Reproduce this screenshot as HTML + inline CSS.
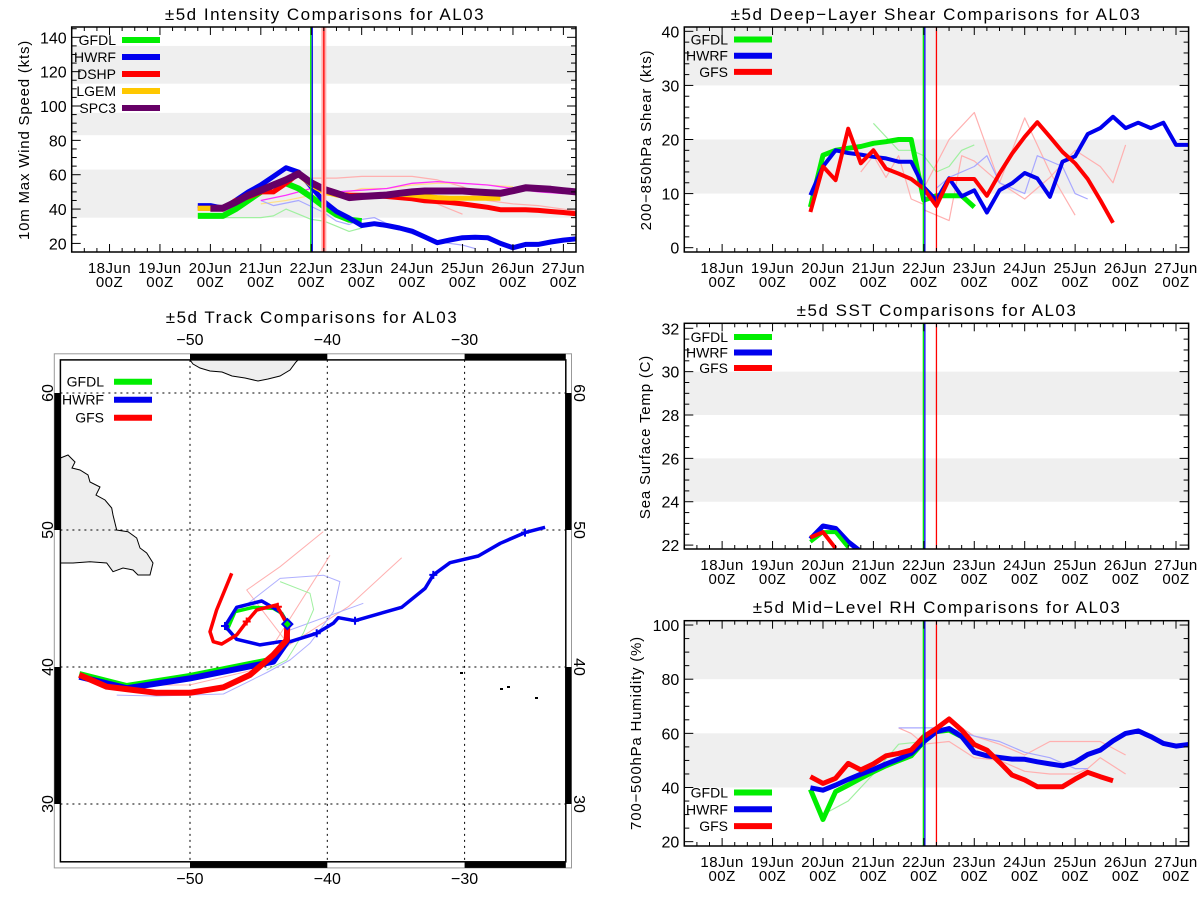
<!DOCTYPE html>
<html><head><meta charset="utf-8">
<style>
html,body{margin:0;padding:0;background:#fff;}
svg{display:block;font-family:"Liberation Sans",sans-serif;}
</style></head>
<body>
<svg id="chart" width="1200" height="900" viewBox="0 0 1200 900" xmlns="http://www.w3.org/2000/svg">
<rect x="0" y="0" width="1200" height="900" fill="#fff"/>
</svg>
<script>
// ---------- shared axis data ----------
const dayLabels = ['18Jun','19Jun','20Jun','21Jun','22Jun','23Jun','24Jun','25Jun','26Jun','27Jun'];
const hourLabel = '00Z';
const markerTimes = [3.99, 4.02, 4.25];

// ---------- intensity data (days since 18Jun 00Z, 6-hourly) ----------
const intGfdl = [36,36,36,40,45,50,54,55,52,47,41.5,36.7,33.8,33];
const intHwrf = [42,42,40.5,45,50,54,59,64,61.5,53,44.4,38.6,34.8,30.4,31.5,30.4,29,27.1,23.8,20.4,22,23.3,23.6,23.3,20,17.5,19.4,19.4,20.8,21.9,22.7];
const intDshp = [40.5,40.5,40,45,47,50,50,55,60.6,55,51,48.6,48,48,47.7,47.3,46.7,46,44.8,44.4,43.8,43,42,41,39.6,39.6,39.6,39.2,38.6,38,37.3];
const intLgem = [40.5,40.5,40,44,48,51,54,57,60,54,50,48.2,47.3,47.3,47.7,48.2,48.6,48.2,47.3,46.7,46.3,46.3,46.3,46.3,46.3];
const intSpc3 = [40.5,40.5,44,48,51,54,57,60.6,55.3,51.5,49.2,46.7,47.3,47.7,48.2,49.2,50,50.5,50.5,50.5,50.5,50,49.6,49.2,50.7,52.4,52,51.5,50.7,50];
const intPink1T = [4.0,4.5,5.0,6.0,6.5,7.0,7.5];
const intPink1 = [58,58,59,59,57,53,47];
const intMagT = [3.0,3.5,4.0,4.5,5.0,5.5,6.0,6.5,7.0,7.5,8.0,8.5,9.0];
const intMag = [45,48,52,50,51,52,55,56,55,54,52,50,49];
const intPaleGT = [2.25,2.5,3.0,3.25,3.5,3.75,4.0,4.25,4.5,4.75,5.0];
const intPaleG = [35,35,35,36,40,37,34,33,30,27,29];
const intPaleBT = [3.0,3.25,3.75,4.25,4.5,4.75,5.0,5.25,5.75,6.5,7.0,7.25];
const intPaleB = [45,42,45,38,33,31,34,35,28,21,19,17];
const intPaleYT = [3.0,3.5,4.0,4.5,5.0,5.5,6.0,6.5,7.0,8.0];
const intPaleY = [43,45,48,48,52,52,54,55,55,53];
const intPink2T = [7.0,7.5,8.0,8.5,9.25];
const intPink2 = [50,45,43,42,39];
const intPink3T = [5.5,6.0,6.5,7.0];
const intPink3 = [48,46,43,37];

// ---------- shear data ----------
const shrGfdl = [7.5,17.1,18,18.4,18.7,19.3,19.6,20,20,8.8,9.6,9.6,9.6,7.5];
const shrHwrf = [9.7,15,18,17.5,17.2,16.8,16.5,15.9,15.9,11.2,8.8,12.8,9.5,10.6,6.5,10.6,11.9,13.8,12.8,9.4,15.9,16.9,21,22.1,24.2,22.1,23.1,22.1,23.1,19,19];
const shrGfs = [6.6,15,12.5,22,15.6,18,14.6,13.7,12.7,10.9,7.7,12.7,12.7,12.7,9.6,13.7,17.4,20.5,23.2,20.5,17.7,15.6,12.7,8.8,4.6];
const shrPaleR1T = [4.0,4.5,5.0,5.5,6.0,6.5,7.0];
const shrPaleR1 = [11,20,25,12,24,14,6];
const shrPaleR2T = [4.0,4.5,4.75,5.0,5.5,6.0,6.5,7.0,7.5,7.75,8.0];
const shrPaleR2 = [7,5,17,16,12,9,13,18,15,12,19];
const shrPaleR3T = [2.75,3.0,3.25,3.5,3.75,4.0];
const shrPaleR3 = [14,17,13,17,9,8];
const shrPaleGT = [3.0,3.5,3.75,4.0,4.25,4.5,4.75,5.0];
const shrPaleG = [23,18,18,17,14,15,18,19];
const shrPaleBT = [4.25,4.5,5.0,5.25,5.5,6.0,6.25,6.75,7.0,7.25];
const shrPaleB = [11,13,15,17,12,10,17,15,10,9];

// ---------- SST data ----------
const sstHwrf = [22.28,22.88,22.77,22.15,21.7];
const sstGfdl = [22.15,22.6,22.6,21.9];
const sstGfs = [22.35,22.6,21.85];

// ---------- RH data ----------
const rhGfdl = [39.3,28.2,38.5,40.9,43.4,45.8,48,49.9,51.7,56.9,60.6,61.2,58.8,55.1];
const rhHwrf = [39.9,39,40.9,43,44.9,46.7,48.7,50.5,52.6,56.9,60.6,61.8,58.8,53,51.7,51.1,50.5,50.4,49.5,48.7,48,49.3,52.2,53.8,57.2,60,60.9,58.8,56.3,55.3,55.9];
const rhGfs = [44,41.5,43.4,48.9,46.5,48.7,51.7,52.6,53.8,58.8,61.8,65.3,61.2,55.9,53.8,49.3,44.6,42.8,40.3,40.3,40.3,43.1,45.6,44,42.5];
const rhPaleR1T = [3.5,3.75,4.0,4.5,5.0,5.5,6.0,6.5,7.0,7.25,7.5,8.0];
const rhPaleR1 = [62,60,56,57,51,50,46,45,45,47,51,45];
const rhPaleR2T = [4.5,5.0,5.5,6.0,6.5,7.0,7.5,8.0];
const rhPaleR2 = [65,59,56,52,57,57,57,52];
const rhPaleBT = [3.5,4.0,4.5,5.0,5.5,6.0,6.5,7.0,7.25];
const rhPaleB = [62,62,62,59,57,53,51,47,47];
const rhPaleGT = [2.0,2.5,3.0,3.5,4.0];
const rhPaleG = [30,35,45,56,57];

// ---------- track data (lon, lat) ----------
const trkGfsLon = [-58.06,-56.07,-52.43,-50.0,-47.57,-45.63,-43.93,-42.96,-42.91,-43.69,-45.14,-45.87,-46.6,-47.69,-48.3,-48.54,-48.06,-46.96];
const trkGfsLat = [39.42,38.56,38.12,38.12,38.52,39.42,40.88,41.97,43.07,44.53,44.16,43.31,42.34,41.68,41.85,42.58,44.16,46.84];
const trkHwrfLon = [-58.06,-54.61,-50.0,-43.93,-42.84,-42.91,-43.44,-44.78,-46.6,-47.45,-46.6,-44.9,-43.44,-42.72,-40.77,-39.56,-39.2,-37.98,-34.58,-32.88,-32.28,-31.06,-29.0,-27.4,-25.6,-24.14];
const trkHwrfLat = [39.29,38.45,39.17,40.39,41.97,43.22,44.04,44.82,44.36,42.99,42.02,41.61,41.85,41.85,42.46,43.19,43.6,43.38,44.36,45.74,46.72,47.61,48.1,49.03,49.81,50.2];
const trkGfdlLon = [-58.06,-54.61,-50.0,-43.93,-42.96,-42.91,-43.32,-43.93,-45.39,-46.72,-47.14,-47.33];
const trkGfdlLat = [39.49,38.61,39.34,40.56,41.97,43.22,43.92,44.28,44.36,44.04,43.07,42.65];
const trkPaleR1Lon = [-42.8,-45.87,-43.44,-40.29];
const trkPaleR1Lat = [41.6,45.62,47.32,49.88];
const trkPaleR2Lon = [-43.93,-39.8];
const trkPaleR2Lat = [41.61,48.15];
const trkPaleR3Lon = [-42.8,-38.47,-34.58];
const trkPaleR3Lat = [41.6,44.4,47.98];
const trkPaleR4Lon = [-55.34,-50.0,-44.9,-42.8];
const trkPaleR4Lat = [38.65,38.69,39.9,41.6];
const trkPaleB1Lon = [-46.6,-43.44,-40.29,-39.08,-39.56,-41.26,-42.72,-44.4,-47.57,-52.43,-55.34];
const trkPaleB1Lat = [44.0,46.47,46.7,46.23,44.04,41.73,40.51,39.6,38.03,37.88,37.95];
const trkPaleB2Lon = [-42.72,-37.38];
const trkPaleB2Lat = [42.7,44.65];
const trkPaleGLon = [-43.44,-41.26,-41.0,-41.75,-42.96,-44.42];
const trkPaleGLat = [46.23,45.38,44.2,42.46,40.51,39.78];
const trkGfsCrossLon = [-45.87,-43.6];
const trkGfsCrossLat = [43.32,44.4];
const trkHwrfCrossLon = [-47.45,-40.77,-37.98,-32.28,-25.6];
const trkHwrfCrossLat = [42.99,42.46,43.38,46.72,49.81];
const trkNowLon = -42.91;
const trkNowLat = 43.13;
const lonTicks = [-50,-40,-30];
const latTicks = [60,50,40,30];

// ---------- helpers ----------
const NS='http://www.w3.org/2000/svg';
const svg=document.getElementById('chart');
function mk(tag,attrs,parent){const e=document.createElementNS(NS,tag);for(const k in attrs)e.setAttribute(k,attrs[k]);(parent||svg).appendChild(e);return e;}
const XMIN=-0.75, XMAX=9.25;
const GREEN='#00ee00', BLUE='#0000ee', RED='#ff0000';

function panel(p){
  const g=mk('g',{});
  
  
  const X=d=>p.x0+(d-XMIN)/(XMAX-XMIN)*(p.x1-p.x0);
  const Y=v=>p.y1-(v-p.ymin)/(p.ymax-p.ymin)*(p.y1-p.y0);
  const cid='clip-'+p.name;
  const cp=mk('clipPath',{id:cid},g);
  mk('rect',{x:p.x0,y:p.y0,width:p.x1-p.x0,height:p.y1-p.y0},cp);
  p.bands.forEach(b=>{
    const lo=Math.max(b[0],p.ymin), hi=Math.min(b[1],p.ymax);
    const r=mk('rect',{x:p.x0,y:Y(hi),width:p.x1-p.x0,height:Y(lo)-Y(hi),fill:'#efefef'},g);
    
    
  });
  const plot=mk('g',{'clip-path':'url(#'+cid+')'},g);
  for(let q=Math.ceil(XMIN*4);q<=Math.floor(XMAX*4);q++){
    const d=q/4, major=(q%4===0), L=major?8:4, x=X(d);
    const t1=mk('line',{x1:x,x2:x,y1:p.y1,y2:p.y1-L,stroke:'#000','stroke-width':1},g);
    
    
    const t2=mk('line',{x1:x,x2:x,y1:p.y0,y2:p.y0+L,stroke:'#000','stroke-width':1},g);
    
    
  }
  dayLabels.forEach((lab,i)=>{
    const x=X(i);
    const t=mk('text',{x:x,y:p.y1+21,'text-anchor':'middle','font-size':15,'letter-spacing':0.5},g);
    t.textContent=lab;
    
    
    const t2=mk('text',{x:x,y:p.y1+35,'text-anchor':'middle','font-size':15,'letter-spacing':0.5},g);
    t2.textContent=hourLabel;
    
    
  });
  const nMin=Math.round((p.ymax-p.ymin)/p.yMinor)+2;
  const start=Math.ceil(p.ymin/p.yMinor)*p.yMinor;
  for(let i=0;i<nMin;i++){
    const v=start+i*p.yMinor; if(v>p.ymax) break;
    const major=Math.abs(v/p.yMajor-Math.round(v/p.yMajor))<1e-6, L=major?9:5, y=Y(v);
    const a=mk('line',{x1:p.x0,x2:p.x0+L,y1:y,y2:y,stroke:'#000','stroke-width':1},g);
    
    
    const b=mk('line',{x1:p.x1,x2:p.x1-L,y1:y,y2:y,stroke:'#000','stroke-width':1},g);
    
    
    if(major){
      const t=mk('text',{x:p.x0-5,y:y+6,'text-anchor':'end','font-size':16},g);
      t.textContent=String(Math.round(v));
      
      
    }
  }
  const fr=mk('rect',{x:p.x0,y:p.y0,width:p.x1-p.x0,height:p.y1-p.y0,fill:'none',stroke:'#000','stroke-width':1.5},g);
  
  
  const ti=mk('text',{x:p.tx,y:p.ty,'text-anchor':'middle','font-size':17,'letter-spacing':1.5},g);
  ti.textContent=p.title;
  
  
  const yl=mk('text',{x:0,y:0,'text-anchor':'middle','font-size':15,'letter-spacing':0.8,transform:'translate('+p.ylx+','+p.yly+') rotate(-90)'},g);
  yl.textContent=p.ylabel;
  
  
  return {g,plot,X,Y,p};
}
function series(P,times,vals,color,w,name){
  const pts=vals.map((v,i)=>P.X(times[i]).toFixed(1)+','+P.Y(v).toFixed(1)).join(' ');
  const l=mk('polyline',{points:pts,fill:'none',stroke:color,'stroke-width':w,'stroke-linejoin':'round'},P.plot);
  
  
  return l;
}
function stepTimes(t0,n){const a=[];for(let i=0;i<n;i++)a.push(t0+0.25*i);return a;}
function markers(P,withBand){
  const cols=[GREEN,BLUE,RED];
  markerTimes.forEach((t,i)=>{
    const x=P.X(t);
    if(withBand&&i===2){
      const b=mk('rect',{x:x-2.5,y:P.p.y0,width:5,height:P.p.y1-P.p.y0,fill:'#ffb0b0'},P.plot);
      
      
    }
    const l=mk('line',{x1:x,x2:x,y1:P.p.y0,y2:P.p.y1,stroke:cols[i],'stroke-width':1.3},P.plot);
    
    
  });
}
function legend(parent,items,x0,y0,dy,textRight){
  items.forEach((it,i)=>{
    const y=y0+i*dy;
    const t=mk('text',{x:textRight,y:y+5,'text-anchor':'end','font-size':14},parent);
    t.textContent=it[0];
    
    
    const l=mk('line',{x1:x0,x2:x0+38,y1:y,y2:y,stroke:it[1],'stroke-width':6},parent);
    
    
  });
}

// ---------- intensity panel ----------
const PI=panel({name:'intensity-chart',x0:71.7,x1:576,y0:27,y1:252,ymin:15,ymax:146,
  bands:[[35,63],[83,96],[113,135]],yMajor:20,yMinor:5,
  title:'±5d Intensity Comparisons for AL03',tx:325,ty:20,ylabel:'10m Max Wind Speed (kts)',ylx:29,yly:140});
series(PI,intPink1T,intPink1,'#ffb0b0',1.2,'pale-dshp-run');
series(PI,intPink2T,intPink2,'#ffb0b0',1.2,'pale-dshp-run');
series(PI,intPink3T,intPink3,'#ffb0b0',1.2,'pale-dshp-run');
series(PI,intPaleYT,intPaleY,'#ffe08a',1.2,'pale-lgem-run');
series(PI,intPaleGT,intPaleG,'#a0f0a0',1.2,'pale-gfdl-run');
series(PI,intPaleBT,intPaleB,'#a8a8ff',1.2,'pale-hwrf-run');
series(PI,intMagT,intMag,'#ff30ff',1.3,'pale-spc3-run');
series(PI,stepTimes(1.75,intGfdl.length),intGfdl,GREEN,6,'gfdl-intensity-line');
series(PI,stepTimes(1.75,intHwrf.length),intHwrf,BLUE,5,'hwrf-intensity-line');
series(PI,stepTimes(1.75,intDshp.length),intDshp,RED,5,'dshp-intensity-line');
series(PI,stepTimes(1.75,intLgem.length),intLgem,'#ffc800',5,'lgem-intensity-line');
series(PI,stepTimes(2.0,intSpc3.length),intSpc3,'#660066',7,'spc3-intensity-line');
markers(PI,true);
legend(PI.g,[['GFDL',GREEN],['HWRF',BLUE],['DSHP',RED],['LGEM','#ffc800'],['SPC3','#660066']],122,40,17,116);

// ---------- shear panel ----------
const PS=panel({name:'shear-chart',x0:684.3,x1:1188.6,y0:27,y1:252,ymin:-0.8,ymax:40.8,
  bands:[[10,20],[30,40.8]],yMajor:10,yMinor:2,
  title:'±5d Deep−Layer Shear Comparisons for AL03',tx:936,ty:20,ylabel:'200−850hPa Shear (kts)',ylx:651,yly:140});
series(PS,shrPaleR1T,shrPaleR1,'#ffb0b0',1.2,'pale-gfs-run');
series(PS,shrPaleR2T,shrPaleR2,'#ffb0b0',1.2,'pale-gfs-run');
series(PS,shrPaleR3T,shrPaleR3,'#ffb0b0',1.2,'pale-gfs-run');
series(PS,shrPaleGT,shrPaleG,'#a0f0a0',1.2,'pale-gfdl-run');
series(PS,shrPaleBT,shrPaleB,'#a8a8ff',1.2,'pale-hwrf-run');
series(PS,stepTimes(1.75,shrGfdl.length),shrGfdl,GREEN,5,'gfdl-shear-line');
series(PS,stepTimes(1.75,shrHwrf.length),shrHwrf,BLUE,4,'hwrf-shear-line');
series(PS,stepTimes(1.75,shrGfs.length),shrGfs,RED,4,'gfs-shear-line');
markers(PS,false);
legend(PS.g,[['GFDL',GREEN],['HWRF',BLUE],['GFS',RED]],734,39.5,16.2,728);

// ---------- SST panel ----------
const PT=panel({name:'sst-chart',x0:684.3,x1:1188.6,y0:323.3,y1:549,ymin:21.82,ymax:32.23,
  bands:[[24,26],[28,30]],yMajor:2,yMinor:0.5,
  title:'±5d SST Comparisons for AL03',tx:937,ty:316,ylabel:'Sea Surface Temp (C)',ylx:650,yly:437});
series(PT,stepTimes(1.75,sstHwrf.length),sstHwrf,BLUE,5,'hwrf-sst-line');
series(PT,stepTimes(1.75,sstGfdl.length),sstGfdl,GREEN,4,'gfdl-sst-line');
series(PT,stepTimes(1.75,sstGfs.length),sstGfs,RED,4,'gfs-sst-line');
markers(PT,false);
legend(PT.g,[['GFDL',GREEN],['HWRF',BLUE],['GFS',RED]],734,337,15.5,728);

// ---------- RH panel ----------
const PR=panel({name:'rh-chart',x0:684.3,x1:1188.6,y0:620.7,y1:846,ymin:18.4,ymax:101.6,
  bands:[[40,60],[80,101.6]],yMajor:20,yMinor:5,
  title:'±5d Mid−Level RH Comparisons for AL03',tx:937,ty:613,ylabel:'700−500hPa Humidity (%)',ylx:641,yly:733});
series(PR,rhPaleR1T,rhPaleR1,'#ffb0b0',1.2,'pale-gfs-run');
series(PR,rhPaleR2T,rhPaleR2,'#ffb0b0',1.2,'pale-gfs-run');
series(PR,rhPaleBT,rhPaleB,'#a8a8ff',1.2,'pale-hwrf-run');
series(PR,rhPaleGT,rhPaleG,'#a0f0a0',1.2,'pale-gfdl-run');
series(PR,stepTimes(1.75,rhGfdl.length),rhGfdl,GREEN,5,'gfdl-rh-line');
series(PR,stepTimes(1.75,rhHwrf.length),rhHwrf,BLUE,5,'hwrf-rh-line');
series(PR,stepTimes(1.75,rhGfs.length),rhGfs,RED,5,'gfs-rh-line');
markers(PR,false);
legend(PR.g,[['GFDL',GREEN],['HWRF',BLUE],['GFS',RED]],734,792.5,16.8,728);

// ---------- track map ----------
(function(){
  const g=mk('g',{});
  
  
  const LX=lon=>190+(lon+50)*13.73;
  const LY=lat=>667-(lat-40)*13.7;
  const ox0=54.3,oy0=353.8,ox1=571.5,oy1=867.9, ix0=60.4,iy0=359.9,ix1=565.8,iy1=861.8;
  const cp=mk('clipPath',{id:'clip-map'},g);
  mk('rect',{x:ix0,y:iy0,width:ix1-ix0,height:iy1-iy0},cp);
  const m=mk('g',{'clip-path':'url(#clip-map)'},g);
  const land1=mk('polygon',{points:'60.4,458 68,455 75,462 72,468 80,470 88,475 90,482 100,487 96,495 105,500 111.7,508 113,515 116.7,530 128,531.7 136.7,538 140,548 146.7,553 153,563 150,575 138,575 133,570 123,568 113,571.7 106.7,563 90,561.7 73,563 60.4,563',fill:'#eeeeee',stroke:'#000','stroke-width':1},m);
  
  
  const land2=mk('polygon',{points:'190,360 193,364 200,368 210,371 222,372 232,376 245,378 258,381 268,379 280,376 290,370 296,362 298,360',fill:'#eeeeee',stroke:'#000','stroke-width':1},m);
  
  
  [[460,672],[500,688],[507,686],[535,697]].forEach(p=>{
    const d=mk('rect',{x:p[0],y:p[1],width:3,height:2,fill:'#000'},m);
    
    
  });
  lonTicks.forEach(lon=>{
    const l=mk('line',{x1:LX(lon),x2:LX(lon),y1:iy0,y2:iy1,stroke:'#000','stroke-width':1,'stroke-dasharray':'2,4'},m);
    
    
  });
  latTicks.forEach(lat=>{
    const l=mk('line',{x1:ix0,x2:ix1,y1:LY(lat),y2:LY(lat),stroke:'#000','stroke-width':1,'stroke-dasharray':'2,4'},m);
    
    
  });
  function trk(lons,lats,color,w,name){
    const pts=lons.map((v,i)=>LX(v).toFixed(1)+','+LY(lats[i]).toFixed(1)).join(' ');
    const l=mk('polyline',{points:pts,fill:'none',stroke:color,'stroke-width':w,'stroke-linejoin':'round'},m);
    
    
  }
  trk(trkPaleR1Lon,trkPaleR1Lat,'#ffb0b0',1,'pale-gfs-track');
  trk(trkPaleR2Lon,trkPaleR2Lat,'#ffb0b0',1,'pale-gfs-track');
  trk(trkPaleR3Lon,trkPaleR3Lat,'#ffb0b0',1,'pale-gfs-track');
  trk(trkPaleR4Lon,trkPaleR4Lat,'#ffb0b0',1,'pale-gfs-track');
  trk(trkPaleB1Lon,trkPaleB1Lat,'#b0b0ff',1,'pale-hwrf-track');
  trk(trkPaleB2Lon,trkPaleB2Lat,'#b0b0ff',1,'pale-hwrf-track');
  trk(trkPaleGLon,trkPaleGLat,'#a0f0a0',1,'pale-gfdl-track');
  trk(trkGfdlLon.slice(0,5),trkGfdlLat.slice(0,5),GREEN,6,'gfdl-track-history');
  trk(trkGfdlLon.slice(4),trkGfdlLat.slice(4),GREEN,3.5,'gfdl-track-forecast');
  trk(trkHwrfLon.slice(0,5),trkHwrfLat.slice(0,5),BLUE,6,'hwrf-track-history');
  trk(trkHwrfLon.slice(4),trkHwrfLat.slice(4),BLUE,3.5,'hwrf-track-forecast');
  trk(trkGfsLon.slice(0,9),trkGfsLat.slice(0,9),RED,6,'gfs-track-history');
  trk(trkGfsLon.slice(8),trkGfsLat.slice(8),RED,3.5,'gfs-track-forecast');
  function cross(lon,lat,color){
    const x=LX(lon),y=LY(lat);
    const c=mk('path',{d:'M'+(x-4)+','+y+'H'+(x+4)+'M'+x+','+(y-4)+'V'+(y+4),stroke:color,'stroke-width':2},m);
    
    
  }
  trkGfsCrossLon.forEach((v,i)=>cross(v,trkGfsCrossLat[i],RED));
  trkHwrfCrossLon.forEach((v,i)=>cross(v,trkHwrfCrossLat[i],BLUE));
  const nx=LX(trkNowLon),ny=LY(trkNowLat);
  const dm=mk('polygon',{points:(nx)+','+(ny-5)+' '+(nx+5)+','+ny+' '+nx+','+(ny+5)+' '+(nx-5)+','+ny,fill:GREEN,stroke:BLUE,'stroke-width':2},m);
  
  
  const of=mk('rect',{x:ox0,y:oy0,width:ox1-ox0,height:oy1-oy0,fill:'none',stroke:'#999','stroke-width':1},g);
  
  
  const bars=[[LX(-50),LX(-40)],[LX(-30),ix1]];
  bars.forEach(b=>{
    [[oy0,iy0],[iy1,oy1]].forEach(r=>{
      const e=mk('rect',{x:b[0],y:r[0],width:b[1]-b[0],height:r[1]-r[0],fill:'#000'},g);
      
      
    });
  });
  const vbars=[[LY(60),LY(50)],[LY(40),LY(30)]];
  vbars.forEach(b=>{
    [[ox0,ix0],[ix1,ox1]].forEach(r=>{
      const e=mk('rect',{x:r[0],y:b[0],width:r[1]-r[0],height:b[1]-b[0],fill:'#000'},g);
      
      
    });
  });
  const inf=mk('rect',{x:ix0,y:iy0,width:ix1-ix0,height:iy1-iy0,fill:'none',stroke:'#000','stroke-width':1.5},g);
  
  
  lonTicks.forEach(lon=>{
    [345,884].forEach(y=>{
      const t=mk('text',{x:LX(lon),y:y,'text-anchor':'middle','font-size':16},g);
      t.textContent='−'+Math.abs(lon);
      
      
    });
  });
  latTicks.forEach(lat=>{
    const y=LY(lat);
    const a=mk('text',{x:0,y:0,'text-anchor':'middle','font-size':16,transform:'translate(53,'+y+') rotate(-90)'},g);
    a.textContent=String(lat);
    
    
    const b=mk('text',{x:0,y:0,'text-anchor':'middle','font-size':16,transform:'translate(574,'+y+') rotate(90)'},g);
    b.textContent=String(lat);
    
    
  });
  const ti=mk('text',{x:312,y:323,'text-anchor':'middle','font-size':17,'letter-spacing':1.5},g);
  ti.textContent='±5d Track Comparisons for AL03';
  
  
  legend(g,[['GFDL',GREEN],['HWRF',BLUE],['GFS',RED]],114,381.7,18,104);
})();
</script>
</body></html>
